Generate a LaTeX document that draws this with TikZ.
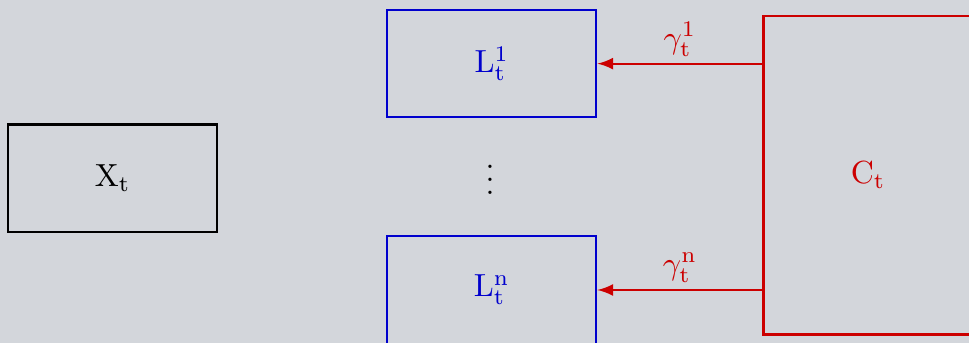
\documentclass[tikz,border=0pt]{standalone}
\usepackage{tikz}
\usetikzlibrary{backgrounds,positioning}

\definecolor{bggray}{RGB}{211,214,219}
\definecolor{lblue}{RGB}{0,0,205}
\definecolor{cred}{RGB}{204,0,0}

\begin{document}
\begin{tikzpicture}[background rectangle/.style={fill=bggray}, show background rectangle, inner frame sep=0pt,
	box/.style={draw, line width=0.7pt, minimum width=2.3cm, minimum height=1.18cm},
	gain/.style={cred, line width=0.7pt, -latex}]

	\useasboundingbox (0,0) rectangle (10.66,-3.77);

	\node[box] (X) at (1.24,-1.96) {$\mathrm{X}_\mathrm{t}$};

	% the stack of local blocks
	\node[box,lblue] (L1) at (5.41,-0.70) {$\mathrm{L}_\mathrm{t}^1$};
	\node (dots) at (5.39,-1.87) {$\vdots$};
	\node[box,lblue] (Ln) at (5.41,-3.19) {$\mathrm{L}_\mathrm{t}^\mathrm{n}$};

	\node[box,cred,minimum height=3.5cm] (C) at (9.55,-1.93) {$\mathrm{C}_\mathrm{t}$};

	\draw[gain] (C.west |- L1) -- (L1.east) node[midway, above, inner sep=2pt] {$\gamma_\mathrm{t}^1$};
	\draw[gain] (C.west |- Ln) -- (Ln.east) node[midway, above, inner sep=2pt] {$\gamma_\mathrm{t}^\mathrm{n}$};

\end{tikzpicture}
\end{document}
